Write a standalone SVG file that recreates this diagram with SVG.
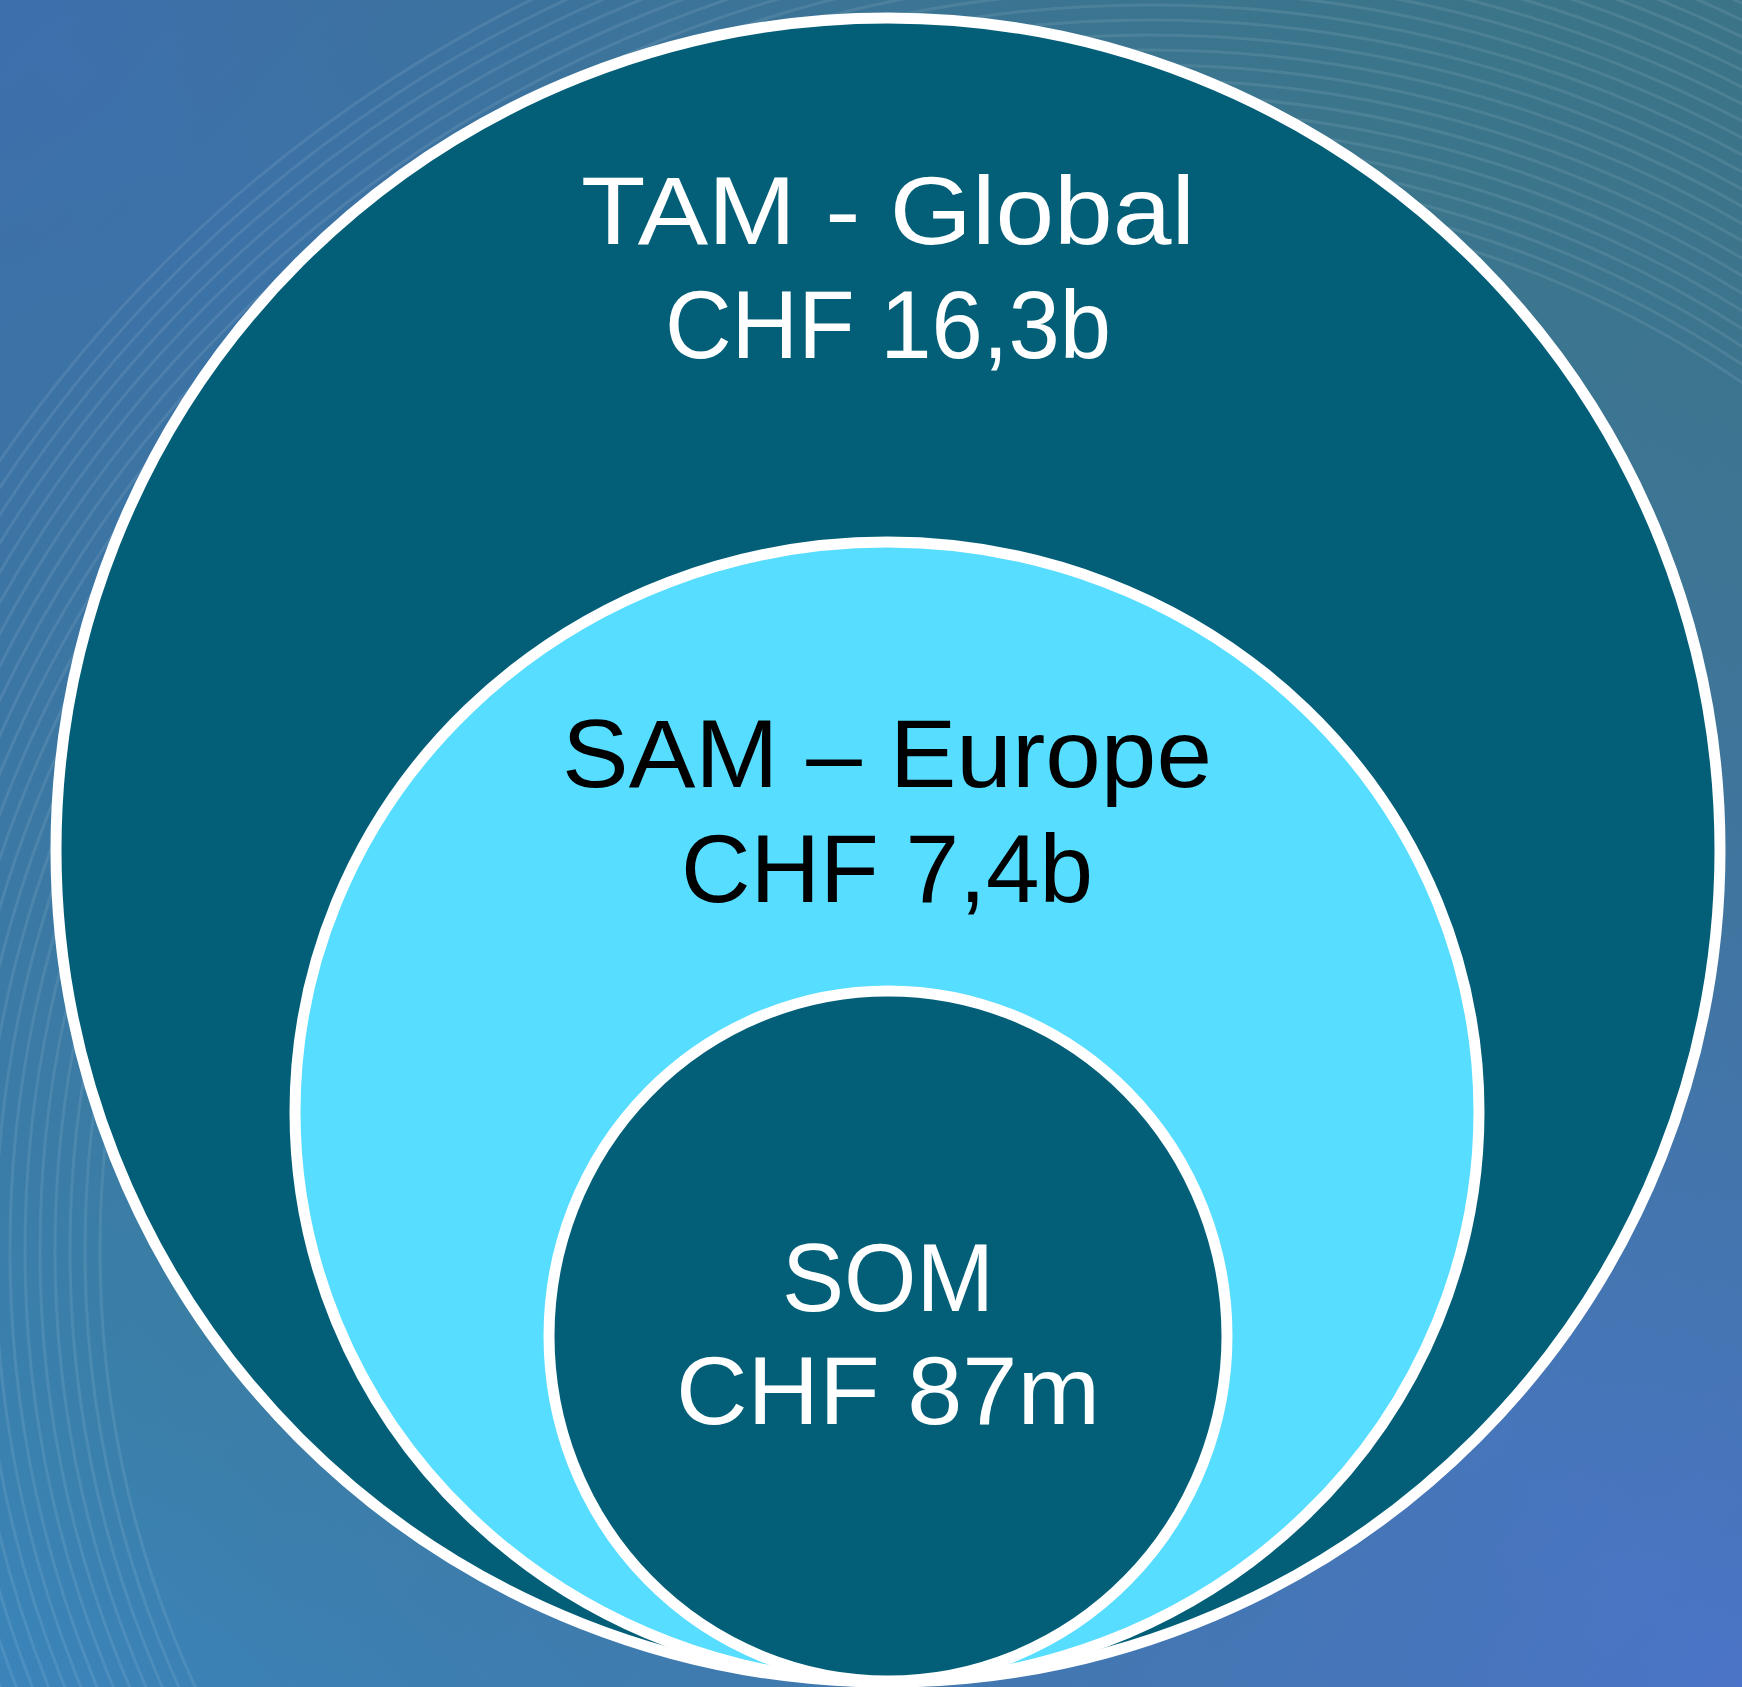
<svg xmlns="http://www.w3.org/2000/svg" width="1742" height="1687" viewBox="0 0 1742 1687">
<defs>
<linearGradient id="bg" x1="0" y1="0" x2="1" y2="1">
<stop offset="0" stop-color="#3d6fae"/>
<stop offset="0.45" stop-color="#3a7a98"/>
<stop offset="1" stop-color="#4b74c8"/>
</linearGradient>
<linearGradient id="bg2" x1="1" y1="0" x2="0" y2="1">
<stop offset="0" stop-color="#3b7385" stop-opacity="0.9"/>
<stop offset="0.5" stop-color="#3b7385" stop-opacity="0"/>
<stop offset="1" stop-color="#3a8cd0" stop-opacity="0.6"/>
</linearGradient>
<style>
.ring{stroke:#ffffff;stroke-width:11}
.dark{fill:#025f77}
.light{fill:#57ddff}
.lbl{font-family:"Liberation Sans",Arial,sans-serif;font-size:96px;text-anchor:middle}
.w{fill:#ffffff}
.b{fill:#000000}
.rip{fill:none;stroke:#ffffff;stroke-opacity:0.09;stroke-width:3}
</style>
</defs>
<g id="background">
<rect width="1742" height="1687" fill="url(#bg)"/>
<rect width="1742" height="1687" fill="url(#bg2)"/>
<g class="rip">
<circle cx="1150" cy="1250" r="1050"/>
<circle cx="1150" cy="1250" r="1065"/>
<circle cx="1150" cy="1250" r="1080"/>
<circle cx="1150" cy="1250" r="1095"/>
<circle cx="1150" cy="1250" r="1110"/>
<circle cx="1150" cy="1250" r="1125"/>
<circle cx="1150" cy="1250" r="1140"/>
<circle cx="1150" cy="1250" r="1155"/>
<circle cx="1150" cy="1250" r="1170"/>
<circle cx="1150" cy="1250" r="1185"/>
<circle cx="1150" cy="1250" r="1200"/>
<circle cx="1150" cy="1250" r="1215"/>
<circle cx="1150" cy="1250" r="1230"/>
<circle cx="1150" cy="1250" r="1245"/>
<circle cx="1150" cy="1250" r="1260"/>
<circle cx="1150" cy="1250" r="1275"/>
<circle cx="1150" cy="1250" r="1290"/>
<circle cx="1150" cy="1250" r="1305"/>
<circle cx="1150" cy="1250" r="1320"/>
<circle cx="1150" cy="1250" r="1335"/>
<circle cx="1150" cy="1250" r="1350"/>
<circle cx="1150" cy="1250" r="1365"/>
<circle cx="1150" cy="1250" r="1380"/>
<circle cx="1150" cy="1250" r="1395"/>
</g>
</g>
<g id="tam">
<ellipse class="dark ring" cx="888" cy="850" rx="832" ry="832"/>
<text class="lbl w" x="888" y="244" textLength="614" lengthAdjust="spacingAndGlyphs">TAM - Global</text>
<text class="lbl w" x="888" y="358" textLength="446" lengthAdjust="spacingAndGlyphs">CHF 16,3b</text>
</g>
<g id="sam">
<ellipse class="light ring" cx="887" cy="1112" rx="592" ry="570"/>
<text class="lbl b" x="887" y="787" textLength="650" lengthAdjust="spacingAndGlyphs">SAM – Europe</text>
<text class="lbl b" x="887" y="902" textLength="412" lengthAdjust="spacingAndGlyphs">CHF 7,4b</text>
</g>
<g id="som">
<ellipse class="dark ring" cx="888" cy="1336" rx="339" ry="345"/>
<text class="lbl w" x="888" y="1311" textLength="212" lengthAdjust="spacingAndGlyphs">SOM</text>
<text class="lbl w" x="888" y="1424" textLength="424" lengthAdjust="spacingAndGlyphs">CHF 87m</text>
</g>
<g id="connectors"/>
</svg>
